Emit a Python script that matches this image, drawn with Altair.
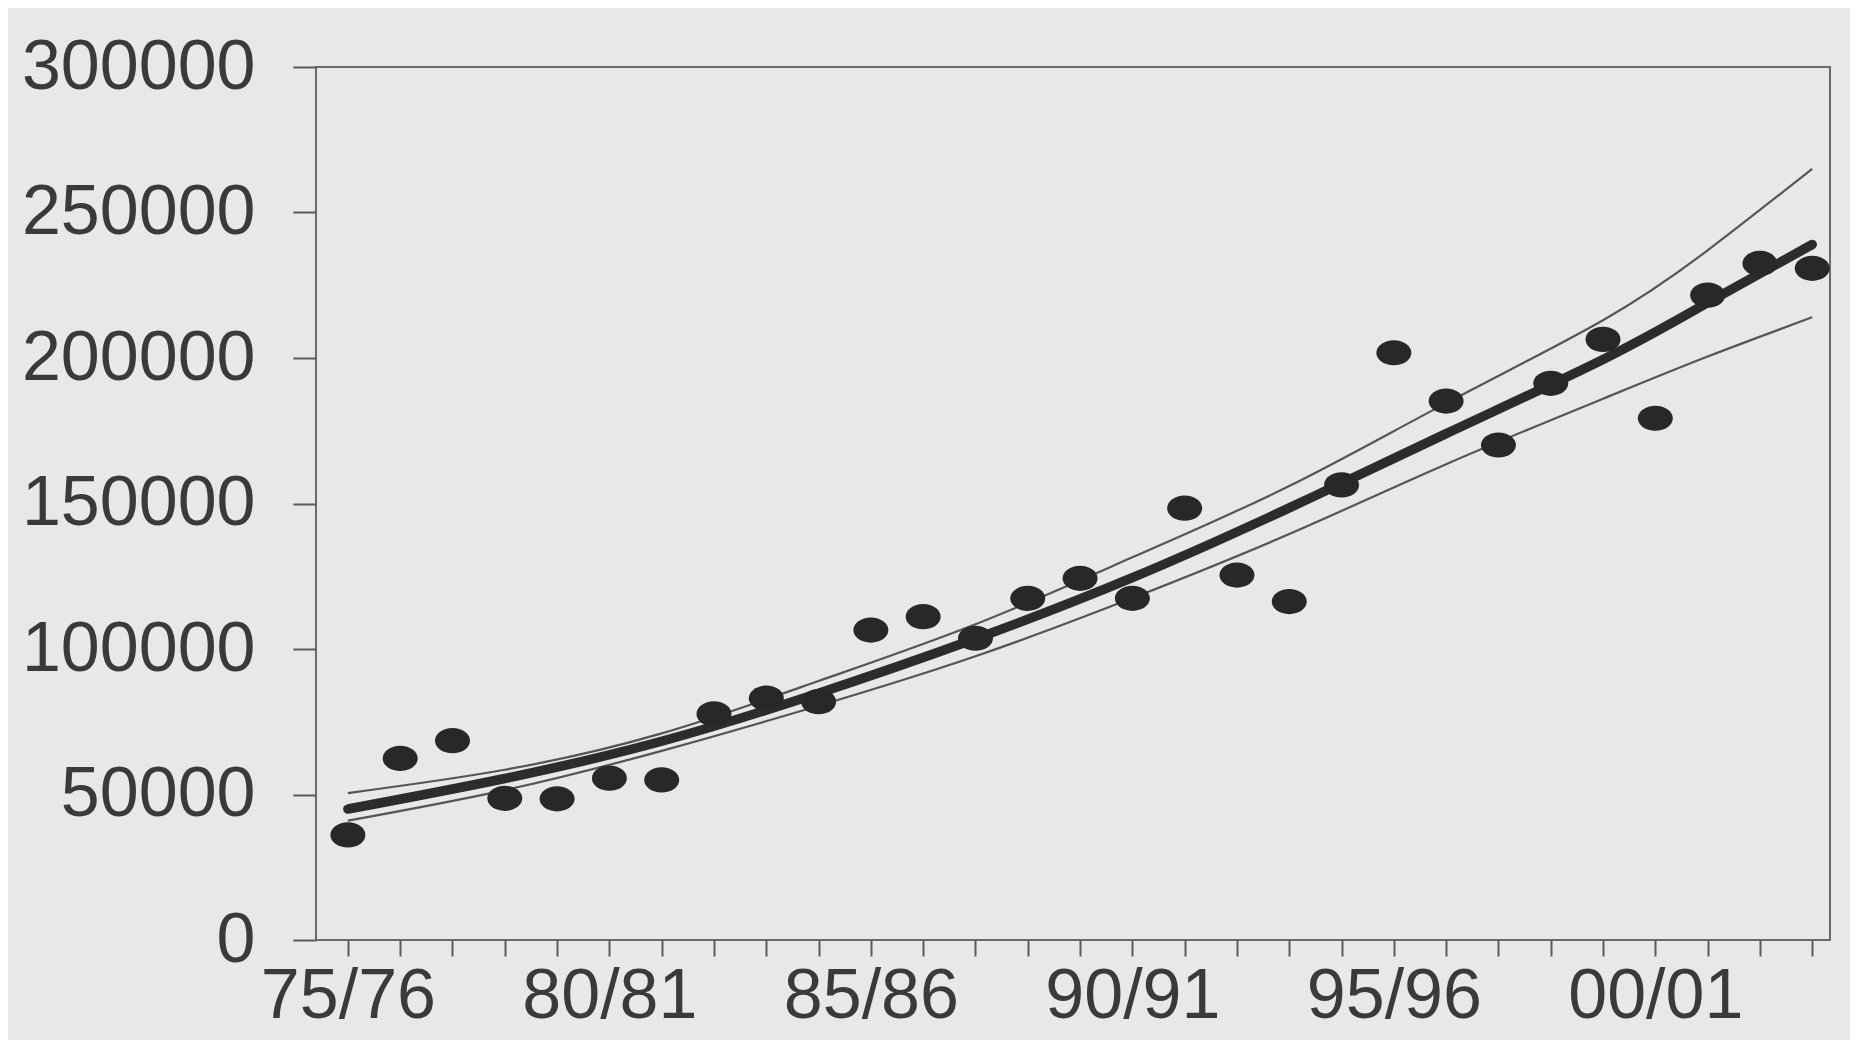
import altair as alt
import pandas as pd

# Seasons (x categories) and observed counts
seasons = ["75/76", "76/77", "77/78", "78/79", "79/80", "80/81", "81/82", "82/83",
           "83/84", "84/85", "85/86", "86/87", "87/88", "88/89", "89/90", "90/91",
           "91/92", "92/93", "93/94", "94/95", "95/96", "96/97", "97/98", "98/99",
           "99/00", "00/01", "01/02", "02/03", "03/04"]
counts = [36100, 62400, 68500, 48700, 48500, 55600, 55000, 77700, 83100, 81900,
          106500, 111100, 103700, 117400, 124300, 117400, 148400, 125400, 116300,
          156400, 201800, 185200, 170100, 191300, 206400, 179300, 221600, 232500, 230800]

# Fitted trend and confidence band, read at selected seasons (index from 75/76)
curve_idx = [0, 3, 6, 9, 12, 15, 18, 21, 24, 26, 28]
fit_vals = [45000, 55500, 68300, 84800, 103500, 124500, 148500, 174000, 199500, 219000, 239000]
upper_vals = [50500, 58500, 71000, 89000, 108500, 131500, 156000, 184500, 213000, 237000, 265000]
lower_vals = [41000, 51500, 65000, 80500, 97500, 117500, 139500, 163500, 186000, 200500, 214000]

# Axis tick labels
y_ticks = [0, 50000, 100000, 150000, 200000, 250000, 300000]
label_idx = [0, 5, 10, 15, 20, 25]
x_labels = ["75/76", "80/81", "85/86", "90/91", "95/96", "00/01"]

pts = pd.DataFrame({"i": list(range(len(seasons))), "season": seasons, "count": counts})
curves = pd.DataFrame({"i": curve_idx, "fit": fit_vals, "upper": upper_vals, "lower": lower_vals})

label_expr = " : ".join(f"datum.value == {i} ? '{l}'" for i, l in zip(label_idx, x_labels)) + " : ''"

FONT = "Liberation Sans"
x_scale = alt.Scale(domain=[-0.61, 28.34], nice=False, zero=False)
y_scale = alt.Scale(domain=[0, 300000], nice=False)

x_axis = alt.Axis(values=list(range(len(seasons))), labelExpr=label_expr, title=None,
                  grid=False, domain=False, tickSize=16, tickColor="#5a5a5a", tickWidth=2,
                  labelFontSize=70, labelFont=FONT, labelColor="#3a3a3a", labelPadding=6,
                  labelOverlap=False, labelFlush=False, labelBound=False, labelLimit=0)
y_axis = alt.Axis(values=y_ticks, format="d", title=None, grid=False, domain=False,
                  tickSize=23, tickColor="#5a5a5a", tickWidth=2, labelLimit=0,
                  labelFontSize=70, labelFont=FONT, labelColor="#3a3a3a", labelPadding=38)

base_x = alt.X("i:Q", scale=x_scale, axis=x_axis)

upper = alt.Chart(curves).mark_line(color="#555555", strokeWidth=2.2, interpolate="natural").encode(
    x=base_x, y=alt.Y("upper:Q", scale=y_scale, axis=y_axis))
lower = alt.Chart(curves).mark_line(color="#555555", strokeWidth=2.2, interpolate="natural").encode(
    x=alt.X("i:Q", scale=x_scale), y=alt.Y("lower:Q", scale=y_scale))
fit = alt.Chart(curves).mark_line(color="#2c2c2c", strokeWidth=9.5, interpolate="natural",
                                  strokeCap="round").encode(
    x=alt.X("i:Q", scale=x_scale), y=alt.Y("fit:Q", scale=y_scale))
points = alt.Chart(pts).mark_point(
    shape="M-1,0A1,0.72,0,1,1,1,0A1,0.72,0,1,1,-1,0Z",
    size=1225, filled=True, color="#282828", opacity=1).encode(
    x=alt.X("i:Q", scale=x_scale), y=alt.Y("count:Q", scale=y_scale),
    tooltip=["season", "count"])

chart = (upper + lower + fit + points).properties(
    width=1514, height=873,
    background="#e8e8e8",
    padding={"left": 308, "top": 59, "right": 20, "bottom": 100},
    autosize=alt.AutoSizeParams(type="none"),
).configure_view(stroke="#6a6a6a", strokeWidth=2)

chart.save("out.html", embed_options={"renderer": "svg", "actions": False})
